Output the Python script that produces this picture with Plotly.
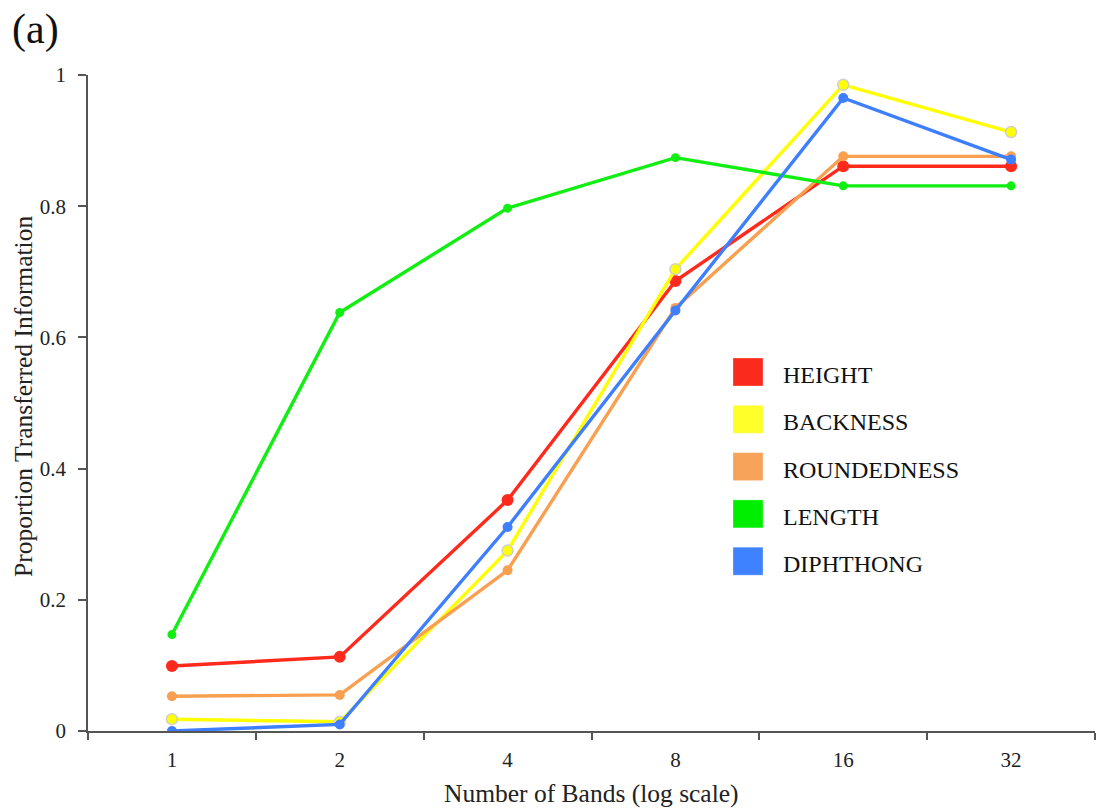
import plotly.graph_objects as go

bands = ["1", "2", "4", "8", "16", "32"]
height = [0.099, 0.113, 0.352, 0.686, 0.861, 0.861]
backness = [0.018, 0.014, 0.275, 0.704, 0.985, 0.913]
roundedness = [0.053, 0.055, 0.245, 0.645, 0.876, 0.876]
length = [0.147, 0.638, 0.797, 0.874, 0.831, 0.831]
diphthong = [0.0, 0.010, 0.311, 0.641, 0.965, 0.871]

series_names = ["HEIGHT", "BACKNESS", "ROUNDEDNESS", "LENGTH", "DIPHTHONG"]
series_values = [height, backness, roundedness, length, diphthong]
line_colors = ["#ff2a1c", "#ffff00", "#f9a050", "#11ee11", "#3d7fff"]
swatch_colors = ["#fa2a1c", "#ffff2a", "#f7a45a", "#00ee00", "#3f82ff"]
marker_sizes = [12, 11, 10, 9, 10]
marker_lines = [dict(width=0), dict(width=1.5, color="#cfcfcf"), dict(width=0), dict(width=0), dict(width=0)]

y_ticks = [0, 0.2, 0.4, 0.6, 0.8, 1]
y_ticktext = ["0", "0.2", "0.4", "0.6", "0.8", "1"]

W, H = 1098, 812
L, R, T, B = 88, 3, 75, 81
PW, PH = W - L - R, H - T - B

def px(x):
    return (x - L) / PW

def py(y):
    return (H - B - y) / PH

fig = go.Figure()
for name, vals, c, ms, ml in zip(series_names, series_values, line_colors, marker_sizes, marker_lines):
    fig.add_trace(go.Scatter(
        x=bands, y=vals, name=name, mode="lines+markers",
        line=dict(color=c, width=3.4),
        marker=dict(color=c, size=ms, line=ml),
        showlegend=False,
    ))

serif = "Liberation Serif, Times New Roman, serif"

shapes = []
annotations = []
for i, (name, c) in enumerate(zip(series_names, swatch_colors)):
    top = 358 + i * 47.3
    shapes.append(dict(type="rect", xref="paper", yref="paper",
                       x0=px(733), x1=px(763), y0=py(top + 28), y1=py(top),
                       fillcolor=c, line=dict(width=0.5, color="rgba(255,255,255,0.6)")))
    annotations.append(dict(text=name, xref="paper", yref="paper", x=px(781), y=py(top + 17),
                            xanchor="left", yanchor="middle", showarrow=False,
                            font=dict(family=serif, size=24, color="#111")))

annotations.append(dict(text="(a)", xref="paper", yref="paper", x=px(10), y=py(29),
                        xanchor="left", yanchor="middle", showarrow=False,
                        font=dict(family=serif, size=42, color="#111")))
annotations.append(dict(text="Number of Bands (log scale)", xref="paper", yref="paper",
                        x=px(591), y=py(793), xanchor="center", yanchor="middle", showarrow=False,
                        font=dict(family=serif, size=25.5, color="#222")))
annotations.append(dict(text="Proportion Transferred Information", xref="paper", yref="paper",
                        x=px(23), y=py(397), xanchor="center", yanchor="middle", showarrow=False,
                        textangle=-90, font=dict(family=serif, size=25.5, color="#222")))

fig.update_layout(
    width=W, height=H, autosize=False,
    margin=dict(l=L, r=R, t=T, b=B, pad=0),
    paper_bgcolor="white", plot_bgcolor="white",
    shapes=shapes, annotations=annotations,
    font=dict(family=serif, color="#222"),
)
fig.update_xaxes(
    type="category", range=[-0.5, 5.5], tickson="boundaries",
    showline=True, linecolor="#555", linewidth=1.5,
    ticks="outside", ticklen=7, tickcolor="#555", tickwidth=1.5,
    showgrid=False, zeroline=False,
    tickfont=dict(family=serif, size=21, color="#222"),
    ticklabelstandoff=9,
)
fig.update_yaxes(
    range=[0, 1], tickvals=y_ticks, ticktext=y_ticktext,
    showline=True, linecolor="#555", linewidth=1.5,
    ticks="outside", ticklen=8, tickcolor="#555", tickwidth=1.5,
    showgrid=False, zeroline=False,
    tickfont=dict(family=serif, size=21, color="#222"),
    ticklabelstandoff=8,
)

fig.write_html("out.html")
